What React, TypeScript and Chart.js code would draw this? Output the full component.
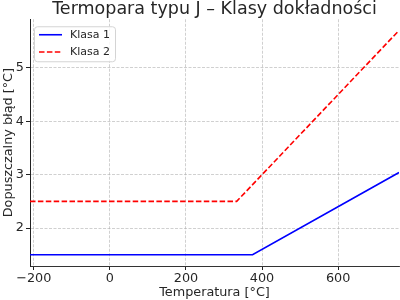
import React, { useEffect, useRef } from "react";
import { Chart, registerables } from "chart.js";

Chart.register(...registerables);

const titleText = "Termopara typu J – Klasy dokładności";
const xTitle = "Temperatura [°C]";
const yTitle = "Dopuszczalny błąd [°C]";
const seriesLabels = ["Klasa 1", "Klasa 2"];

const class1Temps = [-210, 375, 760];
const class1Errors = [1.5, 1.5, 3.04];
const class2Temps = [-210, 333.3, 760];
const class2Errors = [2.5, 2.5, 5.7];

const xTickValues = [-200, 0, 200, 400, 600];
const yTickValues = [2, 3, 4, 5];

const xRange = [-210, 760];
const yRange = [1.29, 5.91];

const FONT = "'DejaVu Sans', sans-serif";
const TEXT = "#262626";

const boxLegend = {
  id: "boxLegend",
  afterDatasetsDraw(chart: any) {
    const ctx = chart.ctx;
    const ca = chart.chartArea;
    ctx.save();
    const bx = ca.left + 4.5;
    const by = ca.top + 7.5;
    ctx.beginPath();
    if (ctx.roundRect) ctx.roundRect(bx, by, 81, 35, 3);
    else ctx.rect(bx, by, 81, 35);
    ctx.fillStyle = "rgba(255,255,255,0.85)";
    ctx.fill();
    ctx.strokeStyle = "#d4d4d4";
    ctx.lineWidth = 1;
    ctx.stroke();
    chart.data.datasets.forEach((ds: any, i: number) => {
      const y = ca.top + 15.5 + i * 17.2;
      ctx.beginPath();
      ctx.setLineDash(ds.borderDash || []);
      ctx.strokeStyle = ds.borderColor;
      ctx.lineWidth = ds.borderWidth;
      ctx.moveTo(ca.left + 9, y);
      ctx.lineTo(ca.left + 32, y);
      ctx.stroke();
      ctx.setLineDash([]);
      ctx.fillStyle = TEXT;
      ctx.font = "11px " + FONT;
      ctx.textBaseline = "middle";
      ctx.textAlign = "left";
      ctx.fillText(ds.label, ca.left + 40, y + 0.5);
    });
    ctx.restore();
  },
};

const fmt = (v: number) => (v < 0 ? "\u2212" + Math.abs(v) : String(v));

export default function App() {
  const ref = useRef<HTMLCanvasElement | null>(null);
  useEffect(() => {
    if (!ref.current) return;
    const chart = new Chart(ref.current, {
      type: "line",
      data: {
        datasets: [
          {
            label: seriesLabels[0],
            data: class1Temps.map((x, i) => ({ x, y: class1Errors[i] })),
            borderColor: "#0000ff",
            borderWidth: 1.6,
            pointRadius: 0,
            fill: false,
            tension: 0,
          },
          {
            label: seriesLabels[1],
            data: class2Temps.map((x, i) => ({ x, y: class2Errors[i] })),
            borderColor: "#ff0000",
            borderWidth: 1.6,
            borderDash: [5.5, 2.4],
            pointRadius: 0,
            fill: false,
            tension: 0,
          },
        ],
      },
      plugins: [boxLegend],
      options: {
        responsive: false,
        animation: false,
        devicePixelRatio: 1,
        layout: { padding: { top: 0, left: 0, right: 1, bottom: 0 } },
        plugins: {
          legend: { display: false },
          tooltip: { enabled: false },
          title: {
            display: true,
            fullSize: false,
            text: titleText,
            color: TEXT,
            font: { family: FONT, size: 17.5, weight: "normal", lineHeight: 1.1 },
            padding: { top: 0, bottom: 0 },
          },
        },
        scales: {
          x: {
            type: "linear",
            min: xRange[0],
            max: xRange[1],
            afterBuildTicks: (s: any) => {
              s.ticks = xTickValues.map((value) => ({ value }));
            },
            afterFit: (s: any) => {
              s.height = 34;
            },
            ticks: {
              color: TEXT,
              font: { family: FONT, size: 12.8 },
              padding: 1,
              maxRotation: 0,
              autoSkip: false,
              callback: (v: any) => fmt(Number(v)),
            },
            grid: {
              color: "rgba(176,176,176,0.75)",
              lineWidth: 0.8,
              drawTicks: true,
              tickLength: 4,
              tickColor: "#222",
              tickWidth: 1,
              tickBorderDash: [],
            },
            border: { display: true, color: "#333", width: 1, dash: [3, 1.5] },
            title: {
              display: true,
              text: xTitle,
              color: TEXT,
              font: { family: FONT, size: 12.8, lineHeight: 1.2 },
              padding: { top: 0, bottom: 0 },
            },
          },
          y: {
            type: "linear",
            min: yRange[0],
            max: yRange[1],
            afterBuildTicks: (s: any) => {
              s.ticks = yTickValues.map((value) => ({ value }));
            },
            afterFit: (s: any) => {
              s.width = 30;
            },
            ticks: {
              color: TEXT,
              font: { family: FONT, size: 12.8 },
              padding: 2,
              autoSkip: false,
              callback: (v: any) => fmt(Number(v)),
            },
            grid: {
              color: "rgba(176,176,176,0.75)",
              lineWidth: 0.8,
              drawTicks: true,
              tickLength: 4,
              tickColor: "#222",
              tickWidth: 1,
              tickBorderDash: [],
            },
            border: { display: true, color: "#222", width: 1, dash: [3, 1.5] },
            title: {
              display: true,
              text: yTitle,
              color: TEXT,
              font: { family: FONT, size: 12.8, lineHeight: 1.2 },
              padding: { top: 1, bottom: 0 },
            },
          },
        },
      },
    } as any);
    return () => chart.destroy();
  }, []);
  return (
    <div style={{ position: "absolute", left: 0, top: 0, width: 400, height: 300, background: "#fff" }}>
      <canvas ref={ref} width={400} height={300} />
    </div>
  );
}
